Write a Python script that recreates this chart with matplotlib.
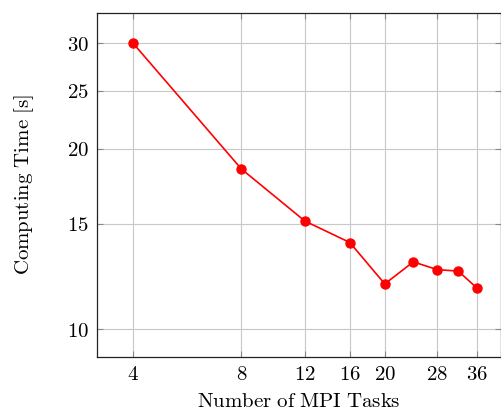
import matplotlib.pyplot as plt
from matplotlib.ticker import FixedLocator, FuncFormatter, NullLocator

plt.rcParams["mathtext.fontset"] = "cm"
plt.rcParams["font.family"] = "serif"
plt.rcParams["font.serif"] = ["DejaVu Serif"]

# data
tasks = [4, 8, 12, 16, 20, 24, 28, 32, 36]
times = [30.0, 18.5, 15.15, 13.95, 11.9, 12.95, 12.57, 12.5, 11.72]

xticks = [4, 8, 12, 16, 20, 28, 36]
yticks = [10, 15, 20, 25, 30]

fig = plt.figure(figsize=(5.01, 4.12), dpi=100)
ax = fig.add_axes([97 / 501, 1 - 356.7 / 412, 403.5 / 501, (356.7 - 12.7) / 412])

ax.plot(tasks, times, color="red", lw=1.2, marker="o", ms=6.5, zorder=3)

ax.set_xscale("log")
ax.set_yscale("log")
ax.set_xlim(3.18, 41.9)
ax.set_ylim(9.0, 33.7)

ax.xaxis.set_major_locator(FixedLocator(xticks))
ax.yaxis.set_major_locator(FixedLocator(yticks))
ax.xaxis.set_minor_locator(NullLocator())
ax.yaxis.set_minor_locator(NullLocator())
fmt = FuncFormatter(lambda v, p: r"$%d$" % round(v))
ax.xaxis.set_major_formatter(fmt)
ax.yaxis.set_major_formatter(fmt)

ax.grid(True, color="#c8c8c8", lw=0.8)
ax.set_axisbelow(True)
ax.tick_params(direction="in", length=4, width=0.8, color="#888888",
               top=True, right=True, labelsize=15, pad=6)
for s in ax.spines.values():
    s.set_color("#222222")
    s.set_linewidth(0.9)

ax.set_xlabel(r"$\mathrm{Number\ of\ MPI\ Tasks}$", fontsize=15, labelpad=6)
ax.set_ylabel(r"$\mathrm{Computing\ Time\ [s]}$", fontsize=15, labelpad=22)

fig.savefig("out.png", dpi=100)
